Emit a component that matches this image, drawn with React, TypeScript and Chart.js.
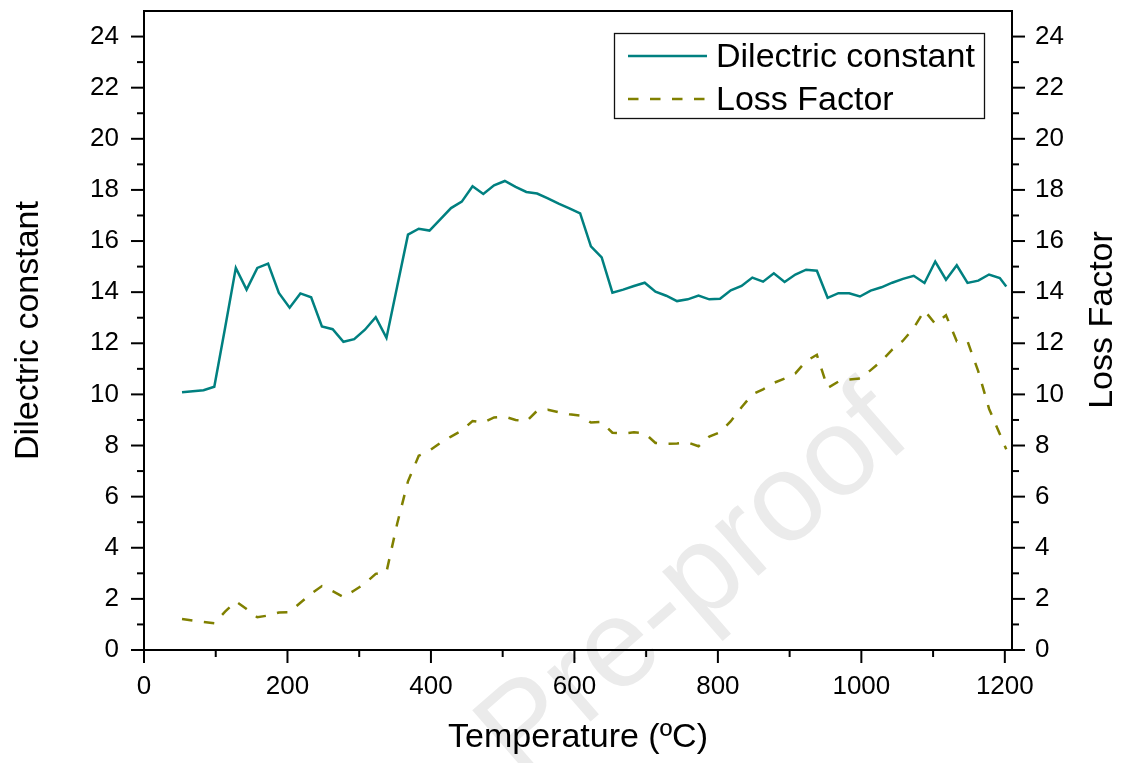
import React, { useEffect, useRef } from 'react';
import { Chart, registerables } from 'chart.js';

Chart.register(...registerables);

const FONT = '"Liberation Sans", Arial, Helvetica, sans-serif';

const temperatures = [
  53, 68, 83, 98, 113, 128, 143, 158, 173, 188, 203, 218, 233, 248, 263, 278, 293, 308, 323, 338,
  353, 368, 383, 398, 413, 428, 443, 458, 473, 488, 503, 518, 533, 548, 563, 578, 593, 608, 623, 638,
  653, 668, 683, 698, 713, 728, 743, 758, 773, 788, 803, 818, 833, 848, 863, 878, 893, 908, 923, 938,
  953, 968, 983, 998, 1013, 1028, 1043, 1058, 1073, 1088, 1103, 1118, 1133, 1148, 1163, 1178, 1193, 1202,
];

const dielectricConstant = [
  10.08, 10.12, 10.16, 10.3, 12.6, 14.95, 14.1, 14.95, 15.12, 13.97, 13.39, 13.95, 13.8, 12.66, 12.55, 12.06, 12.16, 12.53, 13.02, 12.21,
  14.23, 16.25, 16.48, 16.41, 16.85, 17.29, 17.54, 18.14, 17.84, 18.18, 18.35, 18.12, 17.92, 17.86, 17.67, 17.46, 17.28, 17.08, 15.79, 15.36,
  13.98, 14.1, 14.24, 14.37, 14.02, 13.86, 13.65, 13.72, 13.87, 13.72, 13.74, 14.07, 14.24, 14.57, 14.41, 14.74, 14.4, 14.69, 14.88, 14.84,
  13.78, 13.96, 13.96, 13.83, 14.06, 14.19, 14.37, 14.52, 14.64, 14.36, 15.2, 14.49, 15.05, 14.36, 14.45, 14.69, 14.55, 14.22,
];

const lossFactor = [
  1.21, 1.15, 1.1, 1.05, 1.5, 1.9, 1.6, 1.28, 1.35, 1.47, 1.48, 1.85, 2.2, 2.5, 2.3, 2.07, 2.33, 2.6, 2.98, 3.05,
  4.95, 6.6, 7.6, 7.8, 8.1, 8.35, 8.58, 8.96, 8.9, 9.1, 9.13, 9.0, 8.94, 9.36, 9.4, 9.3, 9.22, 9.17, 8.9, 8.92,
  8.5, 8.47, 8.52, 8.48, 8.1, 8.07, 8.08, 8.12, 7.97, 8.35, 8.52, 8.95, 9.5, 10.0, 10.2, 10.45, 10.62, 10.82, 11.3, 11.55,
  10.25, 10.5, 10.58, 10.62, 10.95, 11.3, 11.75, 12.1, 12.6, 13.28, 12.76, 13.1, 12.08, 12.08, 10.9, 9.44, 8.45, 7.85,
];

const xMajorTicks = [0, 200, 400, 600, 800, 1000, 1200];
const xMinorTicks = [100, 300, 500, 700, 900, 1100];
const yMajorTicks = [0, 2, 4, 6, 8, 10, 12, 14, 16, 18, 20, 22, 24];
const yMinorTicks = [1, 3, 5, 7, 9, 11, 13, 15, 17, 19, 21, 23];

const seriesLabels = ['Dilectric constant', 'Loss Factor'];
const xTitle = 'Temperature (ºC)';
const yTitle = 'Dilectric constant';
const y1Title = 'Loss Factor';
const watermark = 'Pre-proof';

const TEAL = '#008080';
const OLIVE = '#808000';
const DASH = [10.5, 11.5];
const LINE_W = 2.5;

const decorPlugin = {
  id: 'decor',
  beforeDraw(chart: any) {
    const { ctx } = chart;
    ctx.save();
    ctx.translate(695, 585);
    ctx.rotate((-41 * Math.PI) / 180);
    ctx.font = `125px ${FONT}`;
    ctx.fillStyle = '#ebebeb';
    ctx.textAlign = 'center';
    ctx.textBaseline = 'middle';
    ctx.fillText(watermark, 0, 0);
    ctx.restore();
  },
  afterDraw(chart: any) {
    const { ctx, chartArea, scales } = chart;
    const { left, right, top, bottom } = chartArea;
    ctx.save();
    ctx.strokeStyle = '#000';
    ctx.lineWidth = 2;
    ctx.lineCap = 'butt';
    ctx.strokeRect(left, top, right - left, bottom - top);

    const seg = (x1: number, y1: number, x2: number, y2: number) => {
      ctx.beginPath();
      ctx.moveTo(x1, y1);
      ctx.lineTo(x2, y2);
      ctx.stroke();
    };
    const MAJOR = 13;
    const MINOR = 7;
    xMajorTicks.forEach((v) => {
      const px = scales.x.getPixelForValue(v);
      seg(px, bottom, px, bottom + MAJOR);
    });
    xMinorTicks.forEach((v) => {
      const px = scales.x.getPixelForValue(v);
      seg(px, bottom, px, bottom + MINOR);
    });
    yMajorTicks.forEach((v) => {
      const py = scales.y.getPixelForValue(v);
      seg(left, py, left - MAJOR, py);
      const py1 = scales.y1.getPixelForValue(v);
      seg(right, py1, right + MAJOR, py1);
    });
    yMinorTicks.forEach((v) => {
      const py = scales.y.getPixelForValue(v);
      seg(left, py, left - MINOR, py);
      const py1 = scales.y1.getPixelForValue(v);
      seg(right, py1, right + MINOR, py1);
    });

    // right axis title (reads bottom to top)
    ctx.save();
    ctx.translate(1103, 320);
    ctx.rotate(-Math.PI / 2);
    ctx.font = `34px ${FONT}`;
    ctx.fillStyle = '#000';
    ctx.textAlign = 'center';
    ctx.textBaseline = 'middle';
    ctx.fillText(y1Title, 0, 0);
    ctx.restore();

    // legend
    ctx.lineWidth = 1.3;
    ctx.strokeStyle = '#111';
    ctx.strokeRect(614.5, 33.5, 370, 85);
    ctx.lineWidth = LINE_W;
    ctx.strokeStyle = TEAL;
    seg(628, 56, 707, 56);
    ctx.strokeStyle = OLIVE;
    ctx.setLineDash(DASH);
    seg(628, 99, 707, 99);
    ctx.setLineDash([]);
    ctx.font = `34px ${FONT}`;
    ctx.fillStyle = '#000';
    ctx.textAlign = 'left';
    ctx.textBaseline = 'alphabetic';
    ctx.fillText(seriesLabels[0], 716, 67);
    ctx.fillText(seriesLabels[1], 716, 110);
    ctx.restore();
  },
};

export default function App() {
  const canvasRef = useRef<HTMLCanvasElement | null>(null);

  useEffect(() => {
    const canvas = canvasRef.current;
    if (!canvas) return;
    Chart.defaults.color = '#000';
    const plain = (v: any) => String(v);
    const chart = new Chart(canvas, {
      type: 'line',
      data: {
        datasets: [
          {
            label: seriesLabels[0],
            data: temperatures.map((t, i) => ({ x: t, y: dielectricConstant[i] })),
            borderColor: TEAL,
            backgroundColor: TEAL,
            borderWidth: LINE_W,
            pointRadius: 0,
            tension: 0,
            yAxisID: 'y',
          },
          {
            label: seriesLabels[1],
            data: temperatures.map((t, i) => ({ x: t, y: lossFactor[i] })),
            borderColor: OLIVE,
            backgroundColor: OLIVE,
            borderWidth: LINE_W,
            borderDash: DASH,
            pointRadius: 0,
            tension: 0,
            yAxisID: 'y1',
          },
        ],
      },
      options: {
        responsive: false,
        animation: false,
        layout: { padding: { top: 11, left: 0, right: 0, bottom: 0 } },
        plugins: { legend: { display: false }, tooltip: { enabled: false } },
        scales: {
          x: {
            type: 'linear',
            position: 'bottom',
            min: 0,
            max: 1210,
            grid: { display: false, drawTicks: false },
            border: { display: false },
            ticks: { font: { family: FONT, size: 26 }, color: '#000', padding: 21, maxRotation: 0, callback: plain },
            afterBuildTicks: (scale: any) => {
              scale.ticks = xMajorTicks.map((v) => ({ value: v }));
            },
            afterFit: (scale: any) => {
              scale.height = 113;
              scale.paddingLeft = 0;
              scale.paddingRight = 0;
            },
            title: {
              display: true,
              text: xTitle,
              font: { family: FONT, size: 34 },
              color: '#000',
              padding: { top: 0, bottom: 5 },
            },
          },
          y: {
            type: 'linear',
            position: 'left',
            min: 0,
            max: 25,
            grid: { display: false, drawTicks: false },
            border: { display: false },
            ticks: { font: { family: FONT, size: 26 }, color: '#000', padding: 25, callback: plain },
            afterBuildTicks: (scale: any) => {
              scale.ticks = yMajorTicks.map((v) => ({ value: v }));
            },
            afterFit: (scale: any) => {
              scale.width = 144;
              scale.paddingTop = 0;
              scale.paddingBottom = 0;
            },
            title: {
              display: true,
              text: yTitle,
              font: { family: FONT, size: 34 },
              color: '#000',
              padding: { top: 8, bottom: 0 },
            },
          },
          y1: {
            type: 'linear',
            position: 'right',
            min: 0,
            max: 25,
            grid: { display: false, drawTicks: false },
            border: { display: false },
            ticks: { font: { family: FONT, size: 26 }, color: '#000', padding: 23, callback: plain },
            afterBuildTicks: (scale: any) => {
              scale.ticks = yMajorTicks.map((v) => ({ value: v }));
            },
            afterFit: (scale: any) => {
              scale.width = 111;
              scale.paddingTop = 0;
              scale.paddingBottom = 0;
            },
            title: { display: false },
          },
        },
      },
      plugins: [decorPlugin],
    });
    return () => chart.destroy();
  }, []);

  return (
    <div style={{ position: 'absolute', left: 0, top: 0, width: 1123, height: 763, background: '#fff' }}>
      <canvas ref={canvasRef} width={1123} height={763} style={{ display: 'block' }} />
    </div>
  );
}
